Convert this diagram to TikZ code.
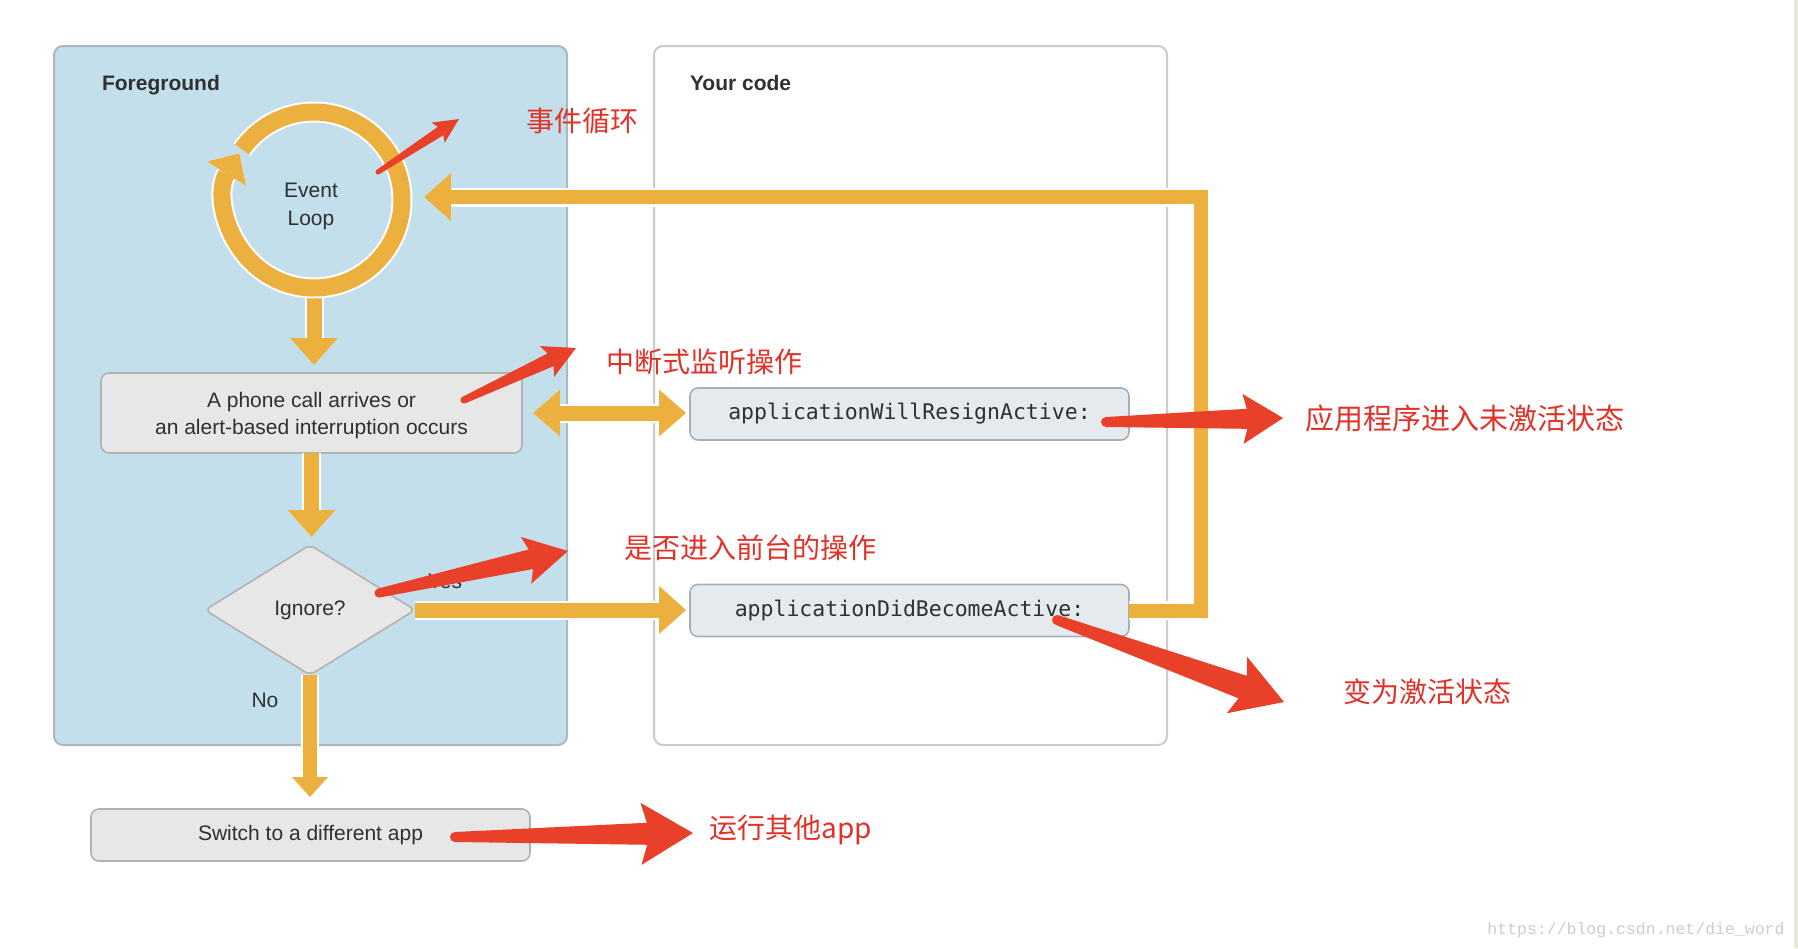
\documentclass[tikz,border=0pt]{standalone}
\usepackage{fontspec}
\setmainfont{Liberation Sans}
\newfontfamily\cjk{Noto Sans CJK SC}
\newfontfamily\codefont{DejaVu Sans Mono}
\newfontfamily\wmfont{Liberation Mono}
\usetikzlibrary{arrows.meta,shapes.geometric,calc}
\definecolor{orng}{RGB}{236,176,62}
\definecolor{fgblue}{RGB}{195,223,235}
\definecolor{fgborder}{RGB}{170,185,193}
\definecolor{cpborder}{RGB}{204,204,204}
\definecolor{boxfill}{RGB}{231,231,231}
\definecolor{boxborder}{RGB}{178,178,178}
\definecolor{codefill}{RGB}{228,234,238}
\definecolor{codeborder}{RGB}{165,176,184}
\definecolor{redc}{RGB}{233,64,41}
\definecolor{redtext}{RGB}{226,50,40}
\definecolor{txt}{RGB}{48,48,48}
\definecolor{stripc}{RGB}{228,234,212}
\definecolor{wmgray}{RGB}{205,205,205}

% tail, tip, tail half width, shaft half width, head half width, head length, wing length
\newcommand{\redarrow}[7]{%
  \coordinate (ra-h) at ($(#2)!#6pt!(#1)$);
  \coordinate (ra-w) at ($(#2)!#7pt!(#1)$);
  \fill[redc] (#1) circle[radius=#3pt];
  \fill[redc] ($(#1)!#3pt!90:(#2)$) -- ($(ra-h)!#4pt!90:(#2)$) -- ($(ra-w)!#5pt!90:(#2)$)
    -- (#2) -- ($(ra-w)!#5pt!-90:(#2)$) -- ($(ra-h)!#4pt!-90:(#2)$) -- ($(#1)!#3pt!-90:(#2)$) -- cycle;
}

\begin{document}
\begin{tikzpicture}[x=1pt,y=-1pt,
  every node/.style={outer sep=0pt},
  panelfg/.style={draw=fgborder, fill=fgblue, line width=2pt, rounded corners=9pt},
  panelcode/.style={draw=cpborder, fill=white, line width=2pt, rounded corners=9pt},
  pbox/.style={draw=boxborder, fill=boxfill, line width=1.6pt, rounded corners=8pt, text=txt,
    font=\fontsize{21}{27}\selectfont, align=center, inner sep=0pt},
  cbox/.style={draw=codeborder, fill=codefill, line width=1.6pt, rounded corners=8pt, text=txt,
    font=\codefont\fontsize{21.5}{26}\selectfont, minimum width=439pt, minimum height=52pt, inner sep=0pt},
  dia/.style={diamond, draw=boxborder, fill=boxfill, line width=1.6pt, rounded corners=6pt, text=txt,
    font=\fontsize{21}{25}\selectfont, minimum width=210pt, minimum height=130pt, inner sep=0pt},
  lbl/.style={text=txt, font=\fontsize{21}{28}\selectfont, inner sep=0pt},
  cjklbl/.style={text=redtext, font=\cjk\fontsize{28}{32}\selectfont, inner sep=0pt},
  oarrow/.style={draw=orng, line width=15pt, -{Triangle[length=27pt,width=48pt,line width=0pt]},
    preaction={draw=white, line width=19pt}},
  oarrowsmall/.style={draw=orng, line width=14pt, -{Triangle[length=20pt,width=36pt,line width=0pt]},
    preaction={draw=white, line width=18pt}},
  obiarrow/.style={draw=orng, line width=15pt,
    {Triangle[length=27pt,width=47pt,line width=0pt]}-{Triangle[length=27pt,width=47pt,line width=0pt]},
    preaction={draw=white, line width=19pt}},
  ring/.style={draw=orng, line width=17pt, -{Triangle[length=24pt,width=46pt,line width=0pt]},
    preaction={draw=white, line width=21pt}}
]
\useasboundingbox (0,0) rectangle (1798,948);
\fill[white] (0,0) rectangle (1798,948);
\fill[stripc] (1794,0) rectangle (1798,948);

% panels
\node[panelfg, minimum width=513pt, minimum height=699pt, inner sep=0pt] (fg) at (310.5,395.5) {};
\node[panelcode, minimum width=513pt, minimum height=699pt, inner sep=0pt] (code) at (910.5,395.5) {};
\node[lbl, anchor=base west] (fglbl) at (102,90) {\bfseries Foreground};
\node[lbl, anchor=base west] (yclbl) at (690,90) {\bfseries Your code};

% nodes
\node[circle, minimum size=192pt, inner sep=0pt] (loop) at (314,200) {};
\node[lbl, align=center] (evtxt) at (311,206) {Event\\Loop};
\node[pbox, minimum width=421pt, minimum height=80pt] (phone) at (311.5,413) {};
\node[lbl, font=\fontsize{21}{27}\selectfont, align=center] (phonetxt) at (311.5,416)
  {A phone call arrives or\\an alert-based interruption occurs};
\node[dia] (ign) at (310,610) {Ignore?};
\node[cbox] (resign) at (909.5,414) {applicationWillResignActive:};
\node[cbox] (did) at (909.5,610.5) {applicationDidBecomeActive:};
\node[pbox, minimum width=439pt, minimum height=52pt] (switch) at (310.5,835) {Switch to a different app};
\node[lbl] (yes) at (445,581) {Yes};
\node[lbl] (no) at (265,700) {No};

% orange connectors
\draw[oarrow, shorten <=-8pt, shorten >=8pt] (loop.south) -- (loop.south |- phone.north);
\draw[ring] (loop.center) ++(-145:88) arc[start angle=-145, end angle=212, radius=88];
\draw[oarrow, shorten >=8pt] (phone.south) -- (phone.south |- ign.north);
\draw[obiarrow, shorten <=11pt, shorten >=4pt] (phone.east) -- (phone.east -| resign.west);
\draw[oarrow, shorten >=4pt] (ign.east) -- (ign.east -| did.west);
\draw[oarrow, line width=14pt, shorten >=14pt] (did.east) -- ++(72,0) |- ([yshift=3pt]loop.east);
\draw[oarrowsmall, shorten >=12pt] (ign.south) -- (ign.south |- switch.north);

% red annotation labels
\node[cjklbl] (a1) at (582,121) {事件循环};
\node[cjklbl] (a2) at (704,362) {中断式监听操作};
\node[cjklbl] (a3) at (750,548) {是否进入前台的操作};
\node[cjklbl, font=\cjk\fontsize{29}{33}\selectfont] (a4) at (1465,418) {应用程序进入未激活状态};
\node[cjklbl] (a5) at (1427,692) {变为激活状态};
\node[cjklbl] (a6) at (791,830) {运行其他app};

% red arrows
\coordinate (r1s) at (378,172); \coordinate (r1t) at (459,119);
\coordinate (r2s) at (464,400); \coordinate (r2t) at (576,348);
\coordinate (r3s) at (379,593); \coordinate (r3t) at (568,551);
\coordinate (r4s) at (1106,422); \coordinate (r4t) at (1283,418);
\coordinate (r5s) at (1057,620); \coordinate (r5t) at (1284,702);
\coordinate (r6s) at (455,837); \coordinate (r6t) at (693,833);
\redarrow{r1s}{r1t}{2.5}{5}{12}{22}{25}
\redarrow{r2s}{r2t}{3.5}{7}{17}{28}{32}
\redarrow{r3s}{r3t}{4.5}{10}{24}{38}{43}
\redarrow{r4s}{r4t}{5}{10}{25}{36}{40}
\redarrow{r5s}{r5t}{5}{12}{30}{44}{50}
\redarrow{r6s}{r6t}{5}{11}{31}{46}{52}

% watermark
\node[text=wmgray, font=\wmfont\fontsize{16.5}{18}\selectfont, inner sep=0pt] (wm) at (1636,930) {https://blog.csdn.net/die\_word};
\end{tikzpicture}
\end{document}
